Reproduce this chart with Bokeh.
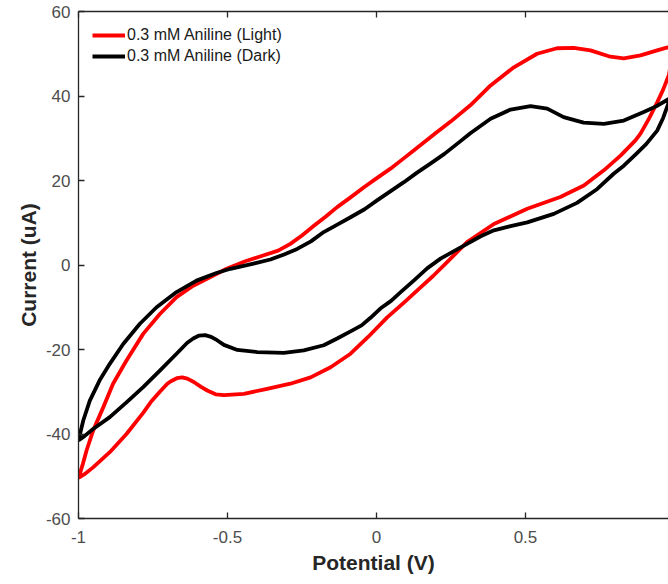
from bokeh.plotting import figure
from bokeh.models import LinearAxis, FixedTicker, Range1d
from bokeh.embed import file_html
from bokeh.resources import INLINE

# ---- data ----
light_x = [-1.0, -0.985, -0.973, -0.951, -0.917, -0.884, -0.839, -0.783, -0.727, -0.671, -0.615,
           -0.559, -0.503, -0.44, -0.378, -0.33, -0.289, -0.25, -0.21, -0.17, -0.132, -0.087,
           -0.042, 0.0, 0.047, 0.087, 0.125, 0.2, 0.25, 0.315, 0.383, 0.461, 0.539, 0.606,
           0.662, 0.718, 0.785, 0.83, 0.886, 0.942, 0.981, 1.0,
           0.981, 0.962, 0.942, 0.915, 0.886, 0.869, 0.819, 0.763, 0.696, 0.617, 0.506, 0.394,
           0.304, 0.237, 0.19, 0.148, 0.094, 0.036, -0.029, -0.087, -0.154, -0.221, -0.289,
           -0.367, -0.445, -0.512, -0.54, -0.568, -0.59, -0.613, -0.635, -0.652, -0.67, -0.69,
           -0.702, -0.727, -0.758, -0.783, -0.839, -0.895, -0.951, -0.98, -1.0]
light_y = [-50.4, -47.0, -43.9, -39.2, -33.7, -28.1, -22.6, -16.3, -11.6, -7.6, -4.9,
           -2.9, -0.9, 0.9, 2.3, 3.4, 5.0, 7.0, 9.3, 11.5, 13.7, 16.0,
           18.4, 20.5, 22.8, 25.0, 27.1, 31.3, 34.0, 37.8, 42.5, 46.8, 50.0, 51.3,
           51.4, 50.8, 49.3, 48.9, 49.6, 50.8, 51.6, 52.2,
           44.9, 41.5, 38.5, 34.7, 31.1, 29.5, 25.9, 22.4, 18.8, 16.1, 13.3, 9.7,
           5.4, 0.7, -2.6, -5.3, -8.8, -12.4, -17.1, -21.0, -24.2, -26.6, -28.1,
           -29.3, -30.5, -30.8, -30.6, -29.7, -28.8, -27.7, -26.9, -26.6, -26.8, -27.5,
           -28.1, -30.0, -32.5, -35.0, -40.0, -44.3, -47.9, -49.5, -50.4]

dark_x = [-1.0, -0.984, -0.962, -0.929, -0.895, -0.85, -0.794, -0.738, -0.671, -0.604, -0.537,
          -0.49, -0.42, -0.356, -0.31, -0.266, -0.22, -0.177, -0.13, -0.087, -0.04, 0.002,
          0.05, 0.092, 0.135, 0.181, 0.228, 0.28, 0.315, 0.383, 0.45, 0.517, 0.573, 0.628,
          0.695, 0.763, 0.83, 0.897, 0.94, 0.981, 1.0,
          0.981, 0.962, 0.942, 0.905, 0.87, 0.83, 0.796, 0.741, 0.673, 0.595, 0.506, 0.45,
          0.394, 0.35, 0.304, 0.26, 0.215, 0.17, 0.125, 0.083, 0.049, 0.013, -0.02, -0.05,
          -0.087, -0.132, -0.177, -0.244, -0.311, -0.4, -0.467, -0.512, -0.535, -0.555,
          -0.575, -0.595, -0.615, -0.635, -0.671, -0.727, -0.783, -0.839, -0.895, -0.951,
          -0.98, -1.0]
dark_y = [-41.5, -36.8, -32.1, -27.3, -23.4, -18.7, -13.9, -10.0, -6.4, -3.7, -1.9,
          -0.9, 0.2, 1.3, 2.5, 3.8, 5.6, 7.8, 9.6, 11.3, 13.2, 15.3,
          17.6, 19.6, 21.8, 24.0, 26.3, 29.2, 31.2, 34.6, 36.8, 37.6, 37.0, 35.0,
          33.7, 33.4, 34.2, 36.2, 37.6, 39.3, 40.6,
          38.5, 34.8, 31.8, 28.6, 26.2, 23.5, 21.6, 18.0, 14.7, 12.1, 10.1, 9.2,
          8.2, 6.8, 5.0, 3.3, 1.5, -0.8, -3.7, -6.3, -8.5, -10.3, -12.5, -14.3,
          -15.7, -17.4, -19.0, -20.2, -20.8, -20.6, -20.1, -18.9, -17.8, -17.0,
          -16.6, -16.7, -17.4, -18.4, -21.0, -25.0, -28.9, -32.5, -36.0, -38.8,
          -40.5, -41.5]

x_ticks = [-1, -0.5, 0, 0.5, 1]
x_tick_labels = ["-1", "-0.5", "0", "0.5", "1"]
y_ticks = [-60, -40, -20, 0, 20, 40, 60]
y_tick_labels = ["-60", "-40", "-20", "0", "20", "40", "60"]

series_names = ["0.3 mM Aniline (Light)", "0.3 mM Aniline (Dark)"]

FONT = "Liberation Sans"
AX = "#262626"
TL = "#4d4d4d"

p = figure(width=668, height=584, output_backend="svg", toolbar_location=None,
           x_range=Range1d(-1, 0.98), y_range=Range1d(-60, 60),
           min_border_left=78, min_border_right=0, min_border_top=11, min_border_bottom=66)
p.grid.visible = False
p.outline_line_color = None
p.background_fill_color = "white"
p.border_fill_color = "white"

p.line(light_x, light_y, line_color="#ff0000", line_width=3.8, line_join="round",
       legend_label=series_names[0])
p.line(dark_x, dark_y, line_color="#000000", line_width=3.8, line_join="round",
       legend_label=series_names[1])

def style_axis(ax, ticks, labels):
    ax.ticker = FixedTicker(ticks=ticks)
    ax.major_label_overrides = {t: l for t, l in zip(ticks, labels)}
    ax.minor_tick_line_color = None
    ax.major_tick_in = 6
    ax.major_tick_out = 0
    ax.axis_line_color = AX
    ax.axis_line_width = 1.3
    ax.major_tick_line_color = AX
    ax.major_tick_line_width = 1.3
    ax.major_label_text_font = FONT
    ax.major_label_text_font_size = "17px"
    ax.major_label_text_color = TL
    ax.axis_label_text_font = FONT
    ax.axis_label_text_font_size = "21px"
    ax.axis_label_text_font_style = "bold"
    ax.axis_label_text_color = AX

xa = p.xaxis[0]
style_axis(xa, x_ticks, x_tick_labels)
xa.axis_label = "Potential (V)"
xa.major_label_standoff = 12
xa.axis_label_standoff = 5

ya = p.yaxis[0]
style_axis(ya, y_ticks, y_tick_labels)
ya.axis_label = "Current (uA)"
ya.major_label_standoff = 8
ya.axis_label_standoff = 3

top = LinearAxis()
style_axis(top, x_ticks, x_tick_labels)
top.major_label_text_color = None
top.major_label_text_font_size = "1px"
top.major_label_standoff = 0
p.add_layout(top, "above")

lg = p.legend[0]
lg.location = "top_left"
lg.border_line_color = None
lg.background_fill_alpha = 0
lg.margin = 14
lg.padding = 0
lg.spacing = 1
lg.glyph_width = 33
lg.glyph_height = 20
lg.label_height = 20
lg.label_standoff = 2
lg.label_text_font = FONT
lg.label_text_font_size = "16px"
lg.label_text_color = "#1a1a1a"

open("out.html", "w").write(file_html(p, INLINE))
